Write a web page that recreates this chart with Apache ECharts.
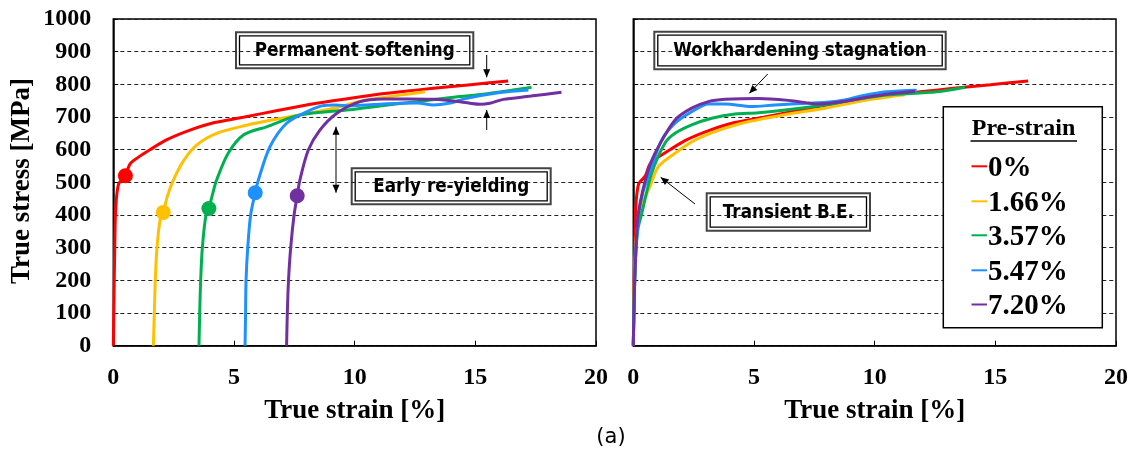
<!DOCTYPE html>
<html>
<head>
<meta charset="utf-8">
<script src="https://cdn.jsdelivr.net/npm/echarts@6/dist/echarts.min.js"></script>
<style>
  html, body { margin: 0; padding: 0; background: #fff; }
  #chart { width: 1135px; height: 454px; }
</style>
</head>
<body>
<div id="chart"></div>
<script>
// Pre-strain levels and their line colours
const preStrains = ['0%', '1.66%', '3.57%', '5.47%', '7.20%'];
const seriesColors = ['#FF0000', '#FFC000', '#00B050', '#1E90FF', '#7030A0'];

// Axis ranges / ticks
const strainTicks = [0, 5, 10, 15, 20];
const stressTicks = [0, 100, 200, 300, 400, 500, 600, 700, 800, 900, 1000];

// Reloading curves plotted on the accumulated true strain, [strain %, stress MPa]
const curve0 = [[0,0],[0.03,150],[0.06,300],[0.1,420],[0.22,495],[0.5,520],[0.69,556],[1.0,575],[1.5,599],[2.2,630],[3.18,660],[4.2,683],[5.39,699],[6.8,720],[8.42,742],[9.7,756],[10.91,769],[12.0,778],[13.26,788],[14.8,799],[16.36,810]];
const curve166 = [[1.66,0],[1.70,100],[1.74,200],[1.81,300],[1.95,390],[2.07,408],[2.25,460],[2.49,507],[2.9,565],[3.45,614],[4.28,650],[5.53,675],[6.5,690],[7.73,706],[9.11,727],[10.5,752],[11.87,767],[12.91,777]];
const curve357 = [[3.55,0],[3.58,100],[3.62,200],[3.69,300],[3.84,400],[3.96,420],[4.1,460],[4.28,507],[4.76,589],[5.39,645],[6.35,670],[7.73,706],[9.8,722],[11.2,735],[12.57,747],[14.0,760],[15.33,770],[16.5,782],[17.33,791]];
const curve547 = [[5.46,0],[5.48,100],[5.50,200],[5.57,300],[5.69,400],[5.88,468],[6.01,507],[6.49,609],[7.18,681],[8.01,716],[8.63,734],[9.2,737],[9.8,734],[10.8,738],[11.87,742],[12.6,743],[13.26,737],[13.9,742],[14.64,757],[16.02,775],[17.2,783]];
const curve720 = [[7.18,0],[7.21,100],[7.26,200],[7.35,300],[7.49,400],[7.62,459],[7.73,507],[8.08,599],[8.56,660],[9.25,711],[10.22,747],[11.19,755],[12.2,755],[13.26,754],[14.36,747],[15.19,739],[15.6,742],[16.16,754],[17.3,764],[18.57,776]];

// Re-yielding points on each reloading curve
const yieldPoints = [[0.5,520],[2.07,408],[3.96,420],[5.88,468],[7.62,459]];

// Same tests plotted on the strain of the reloading step only
const reload0 = curve0;
const reload166 = [[0,0],[0.05,200],[0.12,330],[0.25,400],[0.35,430],[0.69,487],[1.04,548],[1.73,589],[2.42,624],[3.38,655],[4.49,681],[5.46,696],[6.56,711],[7.94,727],[8.6,737],[9.5,750],[10.4,760],[11.25,768]];
const reload357 = [[0,0],[0.04,150],[0.1,280],[0.2,360],[0.35,405],[0.76,528],[1.31,620],[1.73,650],[2.42,676],[3.25,696],[4.21,709],[5.18,713],[6.56,724],[7.94,737],[9.11,752],[10.5,767],[12.57,777],[13.74,791]];
const reload547 = [[0,0],[0.04,150],[0.1,280],[0.22,400],[0.4,470],[0.76,548],[1.18,630],[1.73,681],[2.42,716],[3.11,740],[3.8,740],[4.9,732],[5.87,737],[7.25,742],[8.0,745],[8.77,752],[9.5,765],[10.5,777],[11.74,782]];
const reload720 = [[0,0],[0.04,150],[0.1,280],[0.21,405],[0.62,538],[1.04,609],[1.73,691],[2.42,727],[3.11,747],[3.8,754],[5.18,757],[6.56,750],[7.66,740],[8.63,747],[9.8,762],[10.5,770],[11.67,779]];

const leftCurves = [curve0, curve166, curve357, curve547, curve720];
const rightCurves = [reload0, reload166, reload357, reload547, reload720];

const SERIF = '"Liberation Serif", "Times New Roman", serif';
const SANS = '"DejaVu Sans", Verdana, sans-serif';

const chart = echarts.init(document.getElementById('chart'), null, { renderer: 'canvas' });

const grids = [
  { left: 113.3, top: 19, right: 539, bottom: 108.3 },
  { left: 633.3, top: 19, right: 19, bottom: 108.3 }
];

function xAxisFor(i) {
  return {
    type: 'value', gridIndex: i,
    min: strainTicks[0], max: strainTicks[strainTicks.length - 1],
    interval: strainTicks[1] - strainTicks[0],
    axisLine: { show: true, lineStyle: { color: '#000', width: 1.5 } },
    axisTick: { show: true, inside: true, length: 5, lineStyle: { color: '#000', width: 1 } },
    axisLabel: { show: true, color: '#000', fontFamily: SERIF, fontWeight: 'bold', fontSize: 24, margin: 20,
                 formatter: v => String(v) },
    splitLine: { show: false }
  };
}
function yAxisFor(i) {
  return {
    type: 'value', gridIndex: i,
    min: stressTicks[0], max: stressTicks[stressTicks.length - 1],
    interval: stressTicks[1] - stressTicks[0],
    axisLine: { show: true, lineStyle: { color: '#000', width: 1.5 } },
    axisTick: { show: true, inside: true, length: 5, lineStyle: { color: '#000', width: 1 } },
    axisLabel: { show: i === 0, color: '#000', fontFamily: SERIF, fontWeight: 'bold', fontSize: 24, margin: 22,
                 formatter: v => String(v) },
    splitLine: { show: true, lineStyle: { color: '#222', width: 1, type: [4, 3] } }
  };
}

const series = [];
[leftCurves, rightCurves].forEach((curves, g) => {
  curves.forEach((data, k) => {
    series.push({
      type: 'line', name: preStrains[k] + (g ? ' reload' : ''),
      xAxisIndex: g, yAxisIndex: g,
      data: data, showSymbol: false, symbol: 'none',
      smooth: 0.3,
      lineStyle: { color: seriesColors[k], width: 3 },
      itemStyle: { color: seriesColors[k] },
      z: 3 + k, silent: true, animation: false
    });
  });
});
series.push({
  type: 'scatter', xAxisIndex: 0, yAxisIndex: 0,
  data: yieldPoints.map((p, k) => ({ value: p, itemStyle: { color: seriesColors[k], opacity: 1 } })),
  symbol: 'circle', symbolSize: 15, z: 10, silent: true, animation: false
});

// Annotation helpers
function noteBox(x1, y1, x2, y2, label) {
  return {
    type: 'group', z: 50,
    children: [
      { type: 'rect', shape: { x: x1, y: y1, width: x2 - x1, height: y2 - y1 },
        style: { fill: '#fff', stroke: '#444', lineWidth: 2 } },
      { type: 'rect', shape: { x: x1 + 3.5, y: y1 + 3.5, width: x2 - x1 - 7, height: y2 - y1 - 7 },
        style: { fill: 'none', stroke: '#000', lineWidth: 1.3 } },
      { type: 'text', x: (x1 + x2) / 2, y: (y1 + y2) / 2 + 0.5, scaleX: 0.84,
        style: { text: label, font: 'bold 20px ' + SANS, fill: '#000', align: 'center', verticalAlign: 'middle' } }
    ]
  };
}
function arrowHead(x1, y1, x2, y2) {
  const a = Math.atan2(y2 - y1, x2 - x1);
  const len = 8, half = 3.5;
  const bx = x2 - len * Math.cos(a), by = y2 - len * Math.sin(a);
  return { type: 'polygon', z: 50, shape: { points: [
    [x2, y2],
    [bx + half * Math.sin(a), by - half * Math.cos(a)],
    [bx - half * Math.sin(a), by + half * Math.cos(a)]
  ] }, style: { fill: '#000' } };
}
function arrow(x1, y1, x2, y2, both) {
  const items = [
    { type: 'line', z: 50, shape: { x1, y1, x2, y2 }, style: { stroke: '#000', lineWidth: 1 } },
    arrowHead(x1, y1, x2, y2)
  ];
  if (both) items.push(arrowHead(x2, y2, x1, y1));
  return items;
}

const legendRows = [168.3, 203.3, 237.3, 272.3, 306.5];
const legendItems = [
  { type: 'rect', z: 60, shape: { x: 943.3, y: 106.7, width: 159, height: 221 },
    style: { fill: '#fff', stroke: '#000', lineWidth: 1.5 } },
  { type: 'text', z: 61, x: 1023.5, y: 129,
    style: { text: 'Pre-strain', font: 'bold 24px ' + SERIF, fill: '#000', align: 'center', verticalAlign: 'middle' } },
  { type: 'line', z: 61, shape: { x1: 970.5, y1: 141, x2: 1077, y2: 141 }, style: { stroke: '#000', lineWidth: 1.5 } }
];
preStrains.forEach((label, k) => {
  legendItems.push({ type: 'line', z: 61, shape: { x1: 971.5, y1: legendRows[k] - 2, x2: 987, y2: legendRows[k] - 2 },
    style: { stroke: seriesColors[k], lineWidth: 2 } });
  legendItems.push({ type: 'text', z: 61, x: 988, y: legendRows[k],
    style: { text: label, font: 'bold 29px ' + SERIF, fill: '#000', align: 'left', verticalAlign: 'middle' } });
});

const graphic = [
  { type: 'text', x: 22, y: 181, rotation: Math.PI / 2,
    style: { text: 'True stress [MPa]', font: 'bold 27px ' + SERIF, fill: '#000', align: 'center', verticalAlign: 'middle' } },
  { type: 'text', x: 354.7, y: 411,
    style: { text: 'True strain [%]', font: 'bold 27px ' + SERIF, fill: '#000', align: 'center', verticalAlign: 'middle' } },
  { type: 'text', x: 874.7, y: 411,
    style: { text: 'True strain [%]', font: 'bold 27px ' + SERIF, fill: '#000', align: 'center', verticalAlign: 'middle' } },
  { type: 'text', x: 611, y: 438,
    style: { text: '(a)', font: '21px ' + SANS, fill: '#000', align: 'center', verticalAlign: 'middle' } },
  noteBox(236, 32.3, 473.3, 68.3, 'Permanent softening'),
  noteBox(351.7, 168.3, 550.7, 204.3, 'Early re-yielding'),
  noteBox(654.3, 31.7, 945.7, 69.3, 'Workhardening stagnation'),
  noteBox(706.7, 193.3, 870, 230.7, 'Transient B.E.'),
  ...arrow(486.7, 55, 486.7, 77.3),
  ...arrow(486.7, 130, 486.7, 110),
  ...arrow(336, 192.7, 336, 126.7, true),
  ...arrow(767.7, 74, 749.3, 93.3),
  ...arrow(695, 204, 660.7, 177.3),
  ...legendItems
];

chart.setOption({
  backgroundColor: '#fff',
  animation: false,
  grid: grids.map(g => Object.assign({ show: true, borderColor: '#000', borderWidth: 1.5, backgroundColor: 'transparent', containLabel: false, outerBoundsMode: 'none' }, g)),
  xAxis: [xAxisFor(0), xAxisFor(1)],
  yAxis: [yAxisFor(0), yAxisFor(1)],
  series: series,
  graphic: graphic
});
</script>
</body>
</html>
